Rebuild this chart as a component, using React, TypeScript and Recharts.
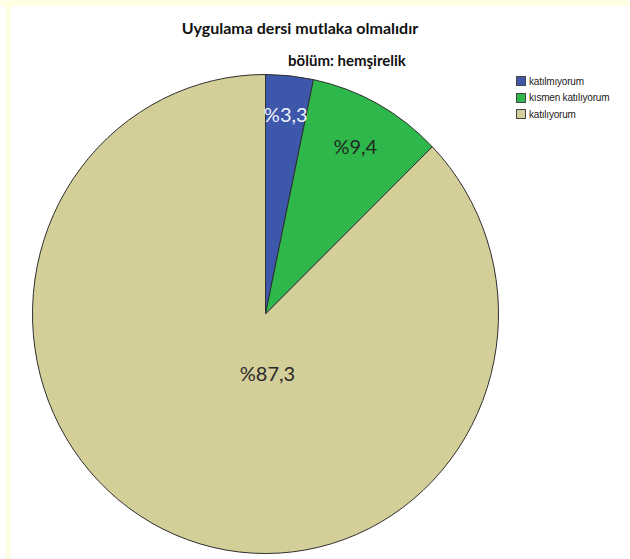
import React from 'react';
import { Legend, Pie, PieChart, Cell } from 'recharts';

// answer categories and their share (%) for bölüm: hemşirelik
const categories = ['katılmıyorum', 'kısmen katılıyorum', 'katılıyorum'];
const shares = [3.3, 9.4, 87.3];
const sliceColors = ['#3D57AB', '#2EB84B', '#D4CF98'];
const labelColors = ['#EEF1FA', '#1F2A1F', '#2B2B2B'];

const chartData = categories.map((name, i) => ({ name, value: shares[i] }));

const RADIAN = Math.PI / 180;
// the original export is stretched a little vertically
const Y_STRETCH = 1.028;

const EllipseSector = (props: any) => {
  const { cx, cy, outerRadius, startAngle, endAngle, fill, stroke, strokeWidth } = props;
  const rx = outerRadius;
  const ry = outerRadius * Y_STRETCH;
  const pt = (a: number) => [cx + rx * Math.cos(-a * RADIAN), cy + ry * Math.sin(-a * RADIAN)];
  const [x0, y0] = pt(startAngle);
  const [x1, y1] = pt(endAngle);
  const large = Math.abs(startAngle - endAngle) > 180 ? 1 : 0;
  const sweep = startAngle > endAngle ? 1 : 0;
  const d = `M${cx},${cy} L${x0},${y0} A${rx},${ry} 0 ${large} ${sweep} ${x1},${y1} Z`;
  return <path d={d} fill={fill} stroke={stroke} strokeWidth={strokeWidth} strokeLinejoin='round' />;
};

const renderLabel = (props: any) => {
  const { cx, cy, midAngle, outerRadius, index, value } = props;
  let x: number;
  let y: number;
  if (value > 50) {
    // SPSS puts the big slice label just under the centre
    x = cx + 2;
    y = cy + outerRadius * 0.255;
  } else {
    const r = outerRadius * (index === 0 ? 0.84 : 0.8);
    x = cx + r * Math.cos(-midAngle * RADIAN);
    y = cy + r * Y_STRETCH * Math.sin(-midAngle * RADIAN);
  }
  return (
    <text
      x={x}
      y={y}
      fill={labelColors[index]}
      textAnchor='middle'
      dominantBaseline='central'
      fontFamily='Lato, sans-serif'
      fontSize={20}
    >
      {'%' + String(value).replace('.', ',')}
    </text>
  );
};

const renderLegend = () => (
  <div style={{ fontFamily: '"Liberation Sans", Arial, sans-serif', fontSize: 10, color: '#222' }}>
    {categories.map((c, i) => (
      <div key={c} style={{ display: 'flex', alignItems: 'center', height: 16.5 }}>
        <div
          style={{
            width: 10,
            height: 10,
            background: sliceColors[i],
            border: '1px solid #444',
            marginRight: 3,
            boxSizing: 'border-box',
          }}
        />
        <span style={{ letterSpacing: -0.2 }}>{c}</span>
      </div>
    ))}
  </div>
);

export default function App() {
  return (
    <div
      style={{
        position: 'absolute',
        left: 0,
        top: 0,
        width: 630,
        height: 559,
        background: '#FFFFE4',
        overflow: 'hidden',
      }}
    >
      <div style={{ position: 'absolute', left: 11, top: 6, right: 0, bottom: 0, background: '#FFFFFF' }} />
      <div style={{ position: 'absolute', left: 0, top: 6, width: 6, bottom: 0, background: '#FFFFFF' }} />
      <div
        style={{
          position: 'absolute',
          left: 0,
          width: 600,
          top: 18,
          textAlign: 'center',
          fontFamily: 'Lato, sans-serif',
          fontWeight: 700,
          fontSize: 16,
          color: '#111',
        }}
      >
        Uygulama dersi mutlaka olmalıdır
      </div>
      <div
        style={{
          position: 'absolute',
          left: 0,
          width: 694,
          top: 51,
          textAlign: 'center',
          fontFamily: 'Lato, sans-serif',
          fontWeight: 700,
          fontSize: 15,
          color: '#111',
        }}
      >
        bölüm: hemşirelik
      </div>
      <div style={{ position: 'absolute', left: 0, top: 0 }}>
        <PieChart width={630} height={559} margin={{ top: 0, right: 0, bottom: 0, left: 0 }}>
          <Pie
            data={chartData}
            dataKey='value'
            nameKey='name'
            cx={265.5}
            cy={314}
            outerRadius={233}
            startAngle={90}
            endAngle={-270}
            stroke='#2F2F2F'
            strokeWidth={1}
            shape={EllipseSector}
            label={renderLabel}
            labelLine={false}
            isAnimationActive={false}
          >
            {chartData.map((d, i) => (
              <Cell key={d.name} fill={sliceColors[i]} />
            ))}
          </Pie>
          <Legend
            layout='vertical'
            verticalAlign='top'
            align='right'
            content={renderLegend}
            wrapperStyle={{ position: 'absolute', left: 516, top: 73, width: 114 }}
          />
        </PieChart>
      </div>
    </div>
  );
}
